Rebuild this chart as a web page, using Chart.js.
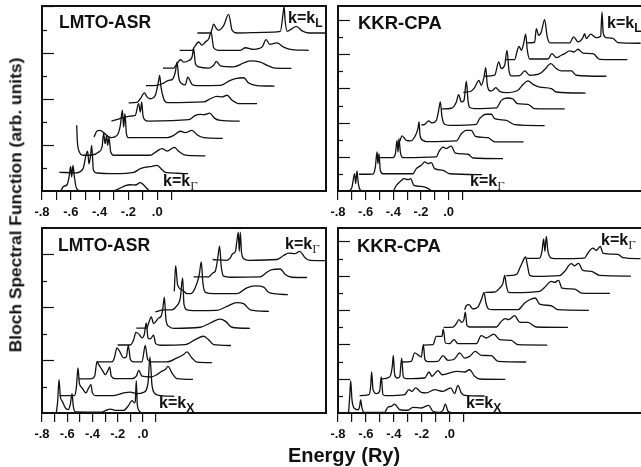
<!DOCTYPE html>
<html><head><meta charset="utf-8">
<script src="https://cdn.jsdelivr.net/npm/chart.js@4"></script>
<style>
html,body{margin:0;padding:0;background:#fff;width:641px;height:467px;overflow:hidden}
body{position:relative;font-family:"Liberation Sans",Arial,sans-serif;font-weight:bold;color:#111}
canvas{position:absolute}
.t{position:absolute;white-space:nowrap;line-height:1;z-index:5}
.k{font-size:16px}
.k .g{font-family:"Liberation Serif",serif;font-weight:normal;font-size:13px;position:relative;top:4px;color:#333}
.k .s{font-size:12px;position:relative;top:4px}
</style></head><body>
<div class="t" style="left:59px;top:14px;font-size:17.5px">LMTO-ASR</div>
<div class="t" style="left:358px;top:14px;font-size:18.5px">KKR-CPA</div>
<div class="t" style="left:58px;top:237px;font-size:17.5px">LMTO-ASR</div>
<div class="t" style="left:357px;top:237px;font-size:18.5px">KKR-CPA</div>
<div class="t k" style="left:288px;top:10px;background:#fff">k=k<span class="s">L</span></div>
<div class="t k" style="left:163px;top:173px">k=k<span class="g">Γ</span></div>
<div class="t k" style="left:607px;top:15px;background:#fff;padding-right:10px">k=k<span class="s">L</span></div>
<div class="t k" style="left:470px;top:173px">k=k<span class="g">Γ</span></div>
<div class="t k" style="left:285px;top:236px">k=k<span class="g">Γ</span></div>
<div class="t k" style="left:159px;top:395px">k=k<span class="s">X</span></div>
<div class="t k" style="left:601px;top:232px">k=k<span class="g">Γ</span></div>
<div class="t k" style="left:466px;top:395px">k=k<span class="s">X</span></div>
<div class="t" id="yt" style="left:16px;top:205px;font-size:17.4px;transform:translate(-50%,-50%) rotate(-90deg)">Bloch Spectral Function (arb. units)</div>
<div class="t" style="left:344px;top:445px;font-size:20px;transform:translateX(-50%)">Energy (Ry)</div>
<script>
const tickValues = [-0.8,-0.7,-0.6,-0.5,-0.4,-0.3,-0.2,-0.1,0,0.1];
const tickLabels = ['-.8','','-.6','','-.4','','-.2','','.0',''];

const lmtoTopE = [
[-.8,-.673,-.65,-.626,-.612,-.601,-.594,-.585,-.575,-.562,-.538,-.302,-.268,-.221,-.187,-.152,-.117,-.089,-.059],
[-.68,-.562,-.515,-.492,-.483,-.474,-.464,-.455,-.443,-.418,-.291,-.163,-.117,-.071,-.036,-.001,.022,.057,.138,.214],
[-.559,-.555,-.543,-.515,-.453,-.406,-.383,-.372,-.362,-.351,-.344,-.335,-.323,-.302,-.048,-.001,.033,.068,.119,.149,.184,.253,.334],
[-.439,-.418,-.395,-.372,-.321,-.279,-.256,-.242,-.233,-.224,-.214,-.198,.068,.114,.161,.195,.242,.276,.323,.455],
[-.318,-.268,-.221,-.187,-.152,-.129,-.117,-.108,-.099,-.087,-.059,.219,.265,.3,.327,.364,.397,.439,.573],
[-.198,-.14,-.117,-.089,-.071,-.048,-.013,.01,.017,.026,.045,.068,.323,.369,.415,.45,.485,.52,.566,.693],
[-.078,-.001,.045,.08,.103,.126,.138,.149,.172,.195,.212,.242,.276,.439,.508,.543,.601,.635,.693,.814],
[.04,.114,.131,.161,.184,.219,.242,.253,.265,.288,.358,.392,.411,.439,.531,.601,.647,.716,.763,.82,.932],
[.156,.242,.258,.288,.311,.334,.358,.374,.392,.427,.577,.612,.67,.728,.756,.781,.832,.878,.936,1.052],
[.279,.358,.374,.392,.411,.427,.462,.496,.52,.554,.739,.855,.874,.881,.888,.902,.936,.966,1.006,1.052,1.168]];
const lmtoTopI = [
[0,0,.2,.27,.61,1.07,.61,1.11,.61,.14,.01,.01,.09,.23,.27,.26,.36,.23,.03],
[.81,.79,.97,1.62,1.73,1.18,1.47,1.98,.9,.78,.75,.81,.97,1.04,1.07,1.11,1,.81,.77,.75],
[2.85,2.2,1.73,1.55,1.56,1.69,1.91,2.51,2.05,2.41,1.98,2.31,1.69,1.55,1.55,1.73,1.84,1.73,1.89,1.72,1.58,1.53,1.52],
[2.34,2.6,2.63,2.53,2.31,2.41,2.85,3.5,2.77,3.35,2.49,2.31,2.31,2.41,2.59,2.53,2.63,2.44,2.31,2.28],
[3.03,3.12,3.21,3.25,3.28,3.79,3.42,3.86,3.28,3.09,3.03,3.09,3.28,3.32,3.31,3.38,3.16,3.06,3.03],
[3.82,3.84,4,4.25,4.08,4,4.15,4.8,5.01,4.51,4,3.83,3.86,4,4.1,4.08,4.15,3.93,3.79,3.79],
[4.57,4.58,4.68,4.8,4.83,5.16,5.59,4.94,4.65,4.6,4.94,4.62,4.57,4.58,4.8,4.87,4.91,4.68,4.57,4.55],
[5.33,5.33,5.45,5.69,5.59,5.66,5.81,6.17,5.52,5.38,5.33,5.45,5.62,5.42,5.38,5.55,5.64,5.59,5.45,5.33,5.32],
[6.1,6.1,6.24,6.46,6.32,6.46,6.6,6.89,6.21,6.1,6.1,6.21,6.14,6.24,6.56,6.36,6.42,6.24,6.13,6.1],
[6.85,6.85,6.89,7.23,7.04,6.97,7.18,7.66,6.97,6.85,6.88,6.92,7.69,8,7.4,6.92,7.04,7.14,6.94,6.85,6.85]];

const kkrTopE = [
[-.716,-.699,-.68,-.672,-.663,-.653,-.641,-.619,-.402,-.378,-.342,-.323,-.294,-.275,-.251,-.198,-.161,-.125],
[-.648,-.547,-.53,-.518,-.511,-.504,-.494,-.475,-.258,-.234,-.198,-.173,-.149,-.125,-.101,-.041,.007,.241],
[-.499,-.402,-.385,-.373,-.366,-.359,-.349,-.33,-.089,-.072,-.041,-.017,.019,.048,.14,.176,.393],
[-.354,-.337,-.306,-.275,-.246,-.222,-.214,-.207,-.185,-.161,.056,.092,.128,.164,.193,.285,.333,.542],
[-.198,-.173,-.144,-.12,-.089,-.072,-.06,-.048,-.029,.007,.2,.224,.272,.309,.333,.417,.477,.694],
[-.048,.019,.056,.072,.092,.111,.128,.14,.152,.188,.345,.381,.424,.465,.497,.574,.622,.839],
[.106,.164,.188,.219,.236,.256,.268,.28,.301,.321,.34,.369,.417,.501,.526,.574,.61,.658,.742,.779,.99],
[.26,.333,.362,.381,.405,.422,.436,.453,.513,.55,.586,.658,.694,.738,.779,.815,.887,.923,1.14],
[.412,.477,.497,.509,.526,.542,.557,.569,.586,.718,.747,.779,.815,.839,.875,.906,.935,.971,1.044,1.092,1.292],
[.566,.622,.634,.651,.67,.694,.713,.733,.875,.904,.935,.971,.983,.995,1.027,1.068,1.099,1.109,1.118,1.14,1.188,1.224,1.388]];
const kkrTopI = [
[0,.23,1.01,.43,1.17,.43,.08,0,.02,.33,.62,.72,.66,.72,.33,.27,.2,.02],
[.98,.99,1.4,2.28,1.6,2.18,1.21,1.01,1.01,1.31,1.5,1.7,1.6,1.66,1.31,1.21,1.01,.96],
[1.95,1.95,2.18,2.96,2.28,3.06,2.28,1.95,1.99,2.28,2.57,2.48,2.63,2.22,2.15,1.93,1.89],
[2.89,3.22,2.96,2.93,3.16,3.65,4.04,3.26,2.96,2.89,2.93,3.35,3.55,3.55,3.2,3.12,2.87,2.87],
[3.86,3.9,4.1,3.98,4.13,4.72,5.21,4.33,3.9,3.84,3.9,4.23,4.49,4.49,4.23,4.13,3.88,3.82],
[4.8,4.84,5.21,5.64,5.21,5.3,6.42,5.3,4.88,4.82,4.86,5.3,5.44,5.38,5.11,5.07,4.82,4.8],
[5.77,5.85,6.05,6.47,6.18,6.67,7.22,6.18,5.85,5.89,6.05,5.83,5.75,5.89,6.12,6.44,6.24,6.08,5.99,5.79,5.73],
[6.71,6.77,7.55,7.16,7.35,8.23,7.06,6.73,6.75,7.02,6.77,6.86,7.1,7.45,7.16,7.02,7.02,6.77,6.71],
[7.68,7.68,8.23,8.46,8.23,8.62,9.17,8.23,7.72,7.72,8.03,7.8,7.94,8.03,8.19,8.13,8.29,8.07,8.03,7.7,7.68],
[8.66,8.7,9.5,9.11,9.3,10.02,9.01,8.66,8.66,9.01,8.72,8.97,9.2,8.91,9.17,8.97,9.05,10.47,9.2,8.97,8.93,8.68,8.64]];

const lmtoBotE = [
[-.686,-.676,-.665,-.655,-.639,-.615,-.594,-.576,-.562,-.552,-.533,-.325,-.298,-.259,-.219,-.153,-.114,-.087,-.069,-.061,-.053,-.045,-.026,-.013],
[-.66,-.544,-.528,-.515,-.504,-.483,-.452,-.43,-.412,-.401,-.378,-.232,-.153,-.1,-.048,.005,.04,.055,.071,.09,.124,.248],
[-.51,-.417,-.383,-.364,-.351,-.325,-.298,-.28,-.264,-.251,-.219,-.087,-.053,-.034,-.008,.058,.111,.15,.177,.198,.23,.269,.396],
[-.359,-.246,-.227,-.206,-.185,-.153,-.132,-.116,-.1,-.074,-.008,.018,.037,.071,.19,.269,.322,.348,.388,.428,.546],
[-.201,-.1,-.074,-.056,-.034,-.008,.01,.026,.04,.058,.084,.1,.137,.335,.414,.48,.52,.56,.697],
[-.053,.032,.045,.066,.084,.124,.143,.158,.169,.182,.203,.243,.454,.533,.612,.652,.705,.847],
[.098,.164,.23,.264,.296,.314,.325,.348,.401,.586,.665,.744,.797,.85,.998],
[.248,.259,.274,.317,.348,.38,.414,.446,.462,.475,.494,.56,.744,.823,.89,.956,.995,1.048,1.148],
[.401,.52,.552,.573,.591,.607,.62,.639,.692,.929,.982,1.022,1.088,1.127,1.18,1.299],
[.552,.665,.692,.71,.731,.744,.755,.763,.771,.781,.802,.837,1.061,1.114,1.154,1.206,1.241,1.286,1.325,1.444]];
const lmtoBotI = [
[.03,.44,1.26,.63,.44,.19,.13,.32,.73,.25,.04,.03,.09,.15,.1,.1,.29,.47,.38,.44,1.22,.32,.06,.01],
[.66,.66,.95,1.7,1.13,.95,.76,.95,1.07,.76,.66,.66,.76,.79,.73,.78,1.13,2.12,1.07,.76,.67,.63],
[1.29,1.29,1.39,1.95,1.83,1.64,1.45,1.58,1.74,1.39,1.3,1.3,1.39,1.61,1.39,1.36,1.45,1.58,1.64,1.76,1.51,1.3,1.27],
[1.93,1.93,2.08,2.46,2.33,2.08,2.12,2.55,2.02,1.93,1.93,2.55,2.02,1.93,1.93,2.08,2.21,2.31,2.08,1.92,1.9],
[2.57,2.57,2.77,3.05,2.99,2.84,2.96,3.4,2.84,2.8,2.94,2.62,2.56,2.58,2.77,2.9,2.77,2.58,2.55],
[3.21,3.21,3.4,3.63,3.38,3.59,3.65,3.97,4.38,3.53,3.28,3.2,3.24,3.4,3.55,3.47,3.24,3.2],
[3.82,3.9,3.9,4.03,4.35,5.1,4.1,3.9,3.87,3.88,4.03,4.17,4.13,3.9,3.84],
[4.6,5.57,4.85,4.63,4.51,4.51,4.73,5.23,5.71,4.91,4.56,4.51,4.51,4.73,4.8,4.76,4.56,4.5,4.47],
[5.14,5.14,5.29,5.36,5.8,6.3,5.54,5.17,5.13,5.14,5.32,5.42,5.44,5.23,5.13,5.12],
[5.8,5.77,5.86,6.02,6.09,6.49,6.83,6.11,6.83,6.05,5.82,5.77,5.8,5.95,6.04,6.02,6.11,5.86,5.77,5.76]];

const kkrBotE = [
[-.724,-.716,-.709,-.7,-.685,-.657,-.645,-.638,-.628,-.614,-.466,-.442,-.418,-.394,-.358,-.299,-.263,-.203,-.151,-.12,-.072,-.048,-.031,-.012,.007],
[-.645,-.578,-.566,-.559,-.549,-.525,-.502,-.49,-.478,-.454,-.323,-.292,-.27,-.244,-.203,-.167,-.108,-.048,.007,.035,.059,.083,.107,.25],
[-.494,-.43,-.411,-.404,-.394,-.375,-.358,-.344,-.332,-.311,-.179,-.148,-.127,-.084,-.055,.047,.107,.143,.179,.215,.398],
[-.342,-.275,-.251,-.222,-.203,-.189,-.177,-.156,-.084,-.048,-.012,.035,.071,.107,.143,.183,.226,.298,.346,.549],
[-.191,-.12,-.096,-.055,-.046,-.031,0,.031,.059,.191,.226,.262,.317,.358,.441,.489,.699],
[-.043,.024,.047,.066,.088,.102,.112,.124,.145,.334,.37,.398,.422,.465,.501,.561,.62,.847],
[.107,.119,.138,.167,.203,.231,.246,.26,.279,.31,.489,.537,.573,.613,.644,.728,.775,.997],
[.255,.322,.358,.382,.394,.405,.422,.465,.644,.68,.728,.752,.78,.804,.895,.943,1.148],
[.405,.477,.513,.544,.556,.573,.608,.787,.823,.871,.895,.923,.954,1.014,1.074,1.298],
[.553,.644,.661,.673,.682,.692,.704,.728,.775,.966,.99,1.026,1.05,1.079,1.098,1.205,1.241,1.367]];
const kkrBotI = [
[.04,.97,1.88,.78,.29,.19,.39,.76,.29,.04,.04,.35,.39,.52,.19,.16,.33,.29,.45,.1,.04,.16,.52,.1,.04],
[1.01,1.07,1.55,2.39,1.36,1.13,1.26,2.1,1.07,1.01,1.07,1.36,1.26,1.46,1.2,1.17,1.36,1.26,1.46,1.13,1.61,1.17,1.03,.99],
[1.98,2.1,2.72,3.36,2.23,2.04,2.1,3.2,2.1,2,2.04,2.39,2.14,2.47,2.23,2.43,2.39,2.52,2.14,1.98,1.96],
[2.97,3.01,3.5,3.36,3.26,3.98,3.11,2.99,3.01,3.34,3.07,3.15,3.5,3.2,3.3,3.59,3.36,3.34,3.01,2.97],
[3.96,3.98,4.47,4.47,4.89,4.08,4.04,4.27,4.04,4.04,4.51,4.37,4.6,4.27,4.23,3.98,3.96],
[4.99,5.01,5.2,5.44,5.28,5.44,5.87,5.09,5.01,5.01,5.34,5.5,5.44,5.67,5.3,5.28,5.01,4.99],
[6.02,6.25,6.31,6.06,6.18,6.7,7.03,6.41,6.06,6.02,6.02,6.41,6.6,6.7,6.35,6.25,6.02,5.98],
[7.03,7.05,7.28,7.57,8.02,7.48,7.03,7.01,7.09,7.32,7.67,7.61,7.73,7.28,7.22,6.99,6.97],
[8,8.06,8.64,9.09,8.64,8.02,7.96,8,8.25,8.7,8.58,8.72,8.31,8.25,8.02,7.98],
[9.01,9.03,9.42,10.14,9.42,10.29,9.42,9.03,8.99,9.03,9.32,9.61,9.48,9.71,9.32,9.24,9.05,8.99]];

const panelFrame = {
  id:'frame',
  afterDraw(chart){
    const {ctx,chartArea:a,scales:{y}} = chart;
    ctx.save();
    ctx.strokeStyle='#111';ctx.lineWidth=1.2;
    y.ticks.forEach(t=>{
      if(t.value<=0||!Number.isInteger(t.value))return;
      const py=Math.round(y.getPixelForValue(t.value))+.5;
      const len=t.value%2===0?12:5;
      ctx.beginPath();ctx.moveTo(a.left,py);ctx.lineTo(a.left+len,py);ctx.stroke();
    });
    ctx.lineWidth=2;
    ctx.strokeRect(a.left,a.top,a.right-a.left,a.bottom-a.top);
    ctx.restore();
  }
};

function panel(left,top,right,bottom,xMax,yMax,energies,intensities){
  const padL=25,padT=6,padR=10,axisH=34;
  const cv=document.createElement('canvas');
  const W=right-left+padL+padR,H=bottom-top+padT+axisH;
  const box=document.createElement('div');
  box.style.cssText=`position:absolute;left:${left-padL}px;top:${top-padT}px;width:${W}px;height:${H}px`;
  document.body.appendChild(box);box.appendChild(cv);
  new Chart(cv,{
    type:'line',
    data:{datasets:energies.map((es,i)=>({
      data:es.map((e,j)=>({x:e,y:intensities[i][j]})),
      borderColor:'#111',borderWidth:1.3,pointRadius:0,cubicInterpolationMode:'monotone',fill:false
    }))},
    plugins:[panelFrame],
    options:{
      responsive:true,maintainAspectRatio:false,animation:false,
      layout:{padding:{left:padL,top:padT,right:padR,bottom:0}},
      plugins:{legend:{display:false},tooltip:{enabled:false}},
      scales:{
        x:{type:'linear',min:-0.8,max:xMax,
          afterBuildTicks(s){s.ticks=tickValues.map(v=>({value:v}));},
          afterFit(s){s.height=axisH;},
          border:{display:false},
          grid:{drawOnChartArea:false,drawTicks:true,tickLength:9,color:'#111',lineWidth:1.2},
          ticks:{autoSkip:false,maxRotation:0,padding:5,color:'#111',
            font:{family:'"Liberation Sans"',weight:'bold',size:13},
            callback:(v,i)=>tickLabels[i]}},
        y:{type:'linear',min:0,max:yMax,
          afterFit(s){s.width=0;},
          border:{display:false},
          grid:{display:false},
          ticks:{display:false,stepSize:1,includeBounds:false}}
      }
    }
  });
}
panel(42,6,326,191,1.172,8.02,lmtoTopE,lmtoTopI);
panel(338,6,650,191,1.456,10.82,kkrTopE,kkrTopI);
panel(42,228,326,413,1.45,6.99,lmtoBotE,lmtoBotI);
panel(338,228,650,413,1.435,10.78,kkrBotE,kkrBotI);
</script>
</body></html>
